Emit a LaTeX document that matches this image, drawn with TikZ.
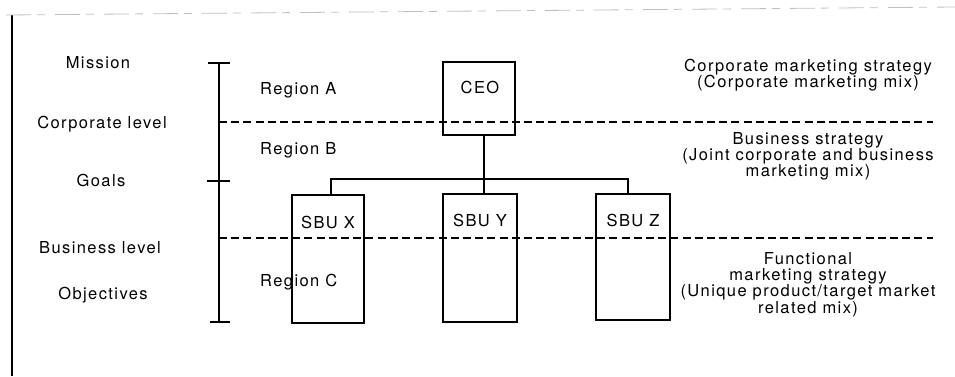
\documentclass[tikz,border=0pt]{standalone}
\usepackage{fontspec}
\setmainfont{TeX Gyre Heros}[LetterSpace=8.5]
\begin{document}
\begin{tikzpicture}[x=1pt,y=-1pt,
  box/.style={draw, line width=1.2pt, inner sep=0pt},
  lbl/.style={anchor=base, inner sep=0pt, font=\fontsize{16.5}{18}\selectfont},
  ln/.style={line width=1.2pt},
  dsh/.style={line width=1.2pt, dash pattern=on 8pt off 4.2pt},
  frm/.style={line width=1.3pt}]
\useasboundingbox (0,0) rectangle (955,376);
% frame
\coordinate (fl1) at (12,15);
\coordinate (fl2) at (12,376);
\coordinate (ft1) at (6,15);
\coordinate (ft2) at (955,7);
\draw[frm] (fl1) -- (fl2);
\draw[gray!50, line width=0.8pt, dash pattern=on 25pt off 6pt on 8pt off 10pt] (ft1) -- (ft2);
% scale bar
\coordinate (st) at (219,63);
\coordinate (sg) at (219,181);
\coordinate (sb) at (219,322);
\draw[ln] (st) -- (sb);
\draw[ln] ([xshift=-11pt]st) -- ([xshift=11pt]st);
\draw[ln] ([xshift=-12pt]sg) -- ([xshift=11pt]sg);
\draw[ln] ([xshift=-9pt]sb) -- ([xshift=11pt]sb);
% dashed level lines
\coordinate (d1l) at (219,122);
\coordinate (d1r) at (933,122);
\coordinate (d2l) at (219,238);
\coordinate (d2r) at (933,238);
\draw[dsh] (d1l) -- (d1r);
\draw[dsh] (d2l) -- (d2r);
% boxes
\node[box, minimum width=72pt, minimum height=73pt] (ceo) at (479,98.5) {};
\node[box, minimum width=72pt, minimum height=128pt] (sbx) at (328,259) {};
\node[box, minimum width=74pt, minimum height=128pt] (sby) at (480,258) {};
\node[box, minimum width=74pt, minimum height=126pt] (sbz) at (633,257) {};
% connectors
\coordinate (bus) at (484,179);
\draw[ln] ([xshift=5pt]ceo.south) -- ([xshift=4pt]sby.north);
\draw[ln] ([xshift=3pt]sbx.north) |- (bus) -| ([xshift=-5pt]sbz.north);
% box labels
\node[lbl] (tceo) at (480,93) {CEO};
\node[lbl] (tsbx) at (328,228) {SBU X};
\node[lbl] (tsby) at (480,226) {SBU Y};
\node[lbl] (tsbz) at (633,226) {SBU Z};
% left labels
\node[lbl] (tmis) at (98,68) {Mission};
\node[lbl] (tcor) at (102,128) {Corporate level};
\node[lbl] (tgoa) at (101,186) {Goals};
\node[lbl] (tbus) at (100,253) {Business level};
\node[lbl] (tobj) at (103,299) {Objectives};
% regions
\node[lbl, anchor=base west] (tra) at (260,94) {Region A};
\node[lbl, anchor=base west] (trb) at (260,154) {Region B};
\node[lbl, anchor=base west] (trc) at (260,286) {Region C};
% right texts
\node[lbl] (r11) at (808,71) {Corporate marketing strategy};
\node[lbl] (r12) at (808,87) {(Corporate marketing mix)};
\node[lbl] (r21) at (808,144) {Business strategy};
\node[lbl] (r22) at (808,160) {(Joint corporate and business};
\node[lbl] (r23) at (808,176) {marketing mix)};
\node[lbl] (r31) at (808,264) {Functional};
\node[lbl] (r32) at (808,280) {marketing strategy};
\node[lbl] (r33) at (808,296) {(Unique product/target market};
\node[lbl] (r34) at (808,313) {related mix)};
\end{tikzpicture}
\end{document}
